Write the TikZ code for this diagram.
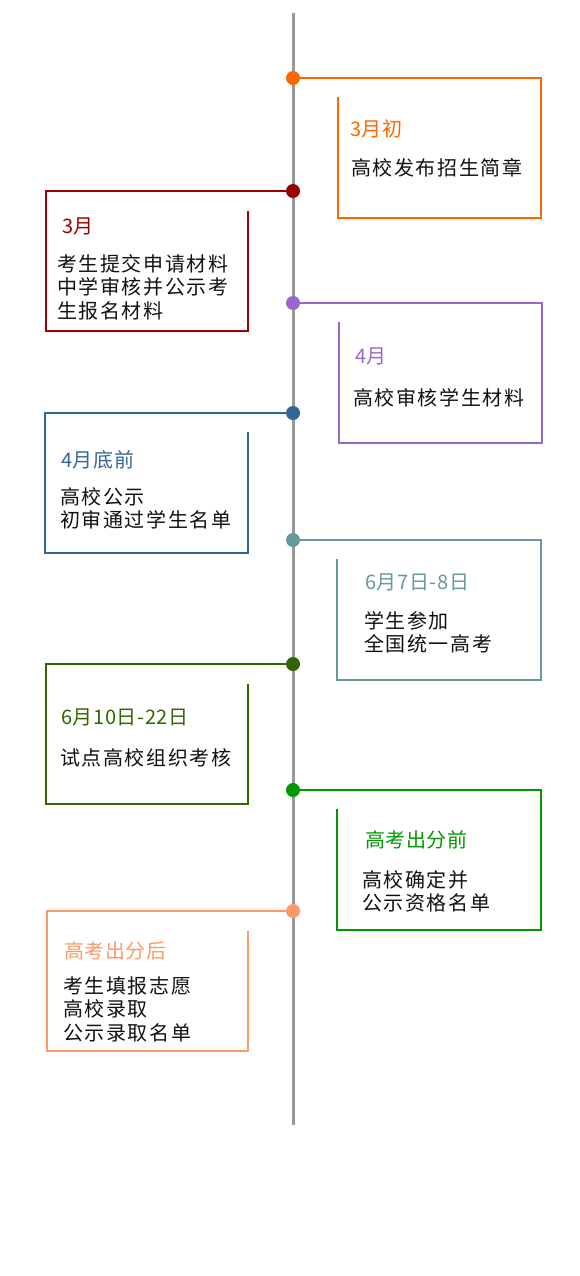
\documentclass[tikz,border=0pt]{standalone}
\usepackage{fontspec}
\newfontfamily\cjkbody[LetterSpace=8]{Noto Sans CJK SC}
\newfontfamily\cjktitle[LetterSpace=3]{Noto Sans CJK SC}
\definecolor{cA}{HTML}{FF6600}
\definecolor{cB}{HTML}{990000}
\definecolor{cC}{HTML}{9966CC}
\definecolor{cD}{HTML}{336699}
\definecolor{cE}{HTML}{669999}
\definecolor{cF}{HTML}{336600}
\definecolor{cG}{HTML}{009900}
\definecolor{cH}{HTML}{FF9966}
\definecolor{axis}{HTML}{999999}
\definecolor{bodytext}{HTML}{111111}
\tikzset{
  px/.style={x=1pt,y=-1pt},
  dotmark/.style={circle,fill=#1,inner sep=0pt,minimum size=14pt},
  frameline/.style={draw=#1,line width=2.6pt},
  titletext/.style={text=#1,font=\cjktitle\fontsize{20}{22}\selectfont,anchor=north west,inner sep=0pt},
  bodytxt/.style={text=bodytext,font=\cjkbody\fontsize{20}{23.5}\selectfont,anchor=north west,inner sep=0pt,align=left},
}
\begin{document}
\begin{tikzpicture}[px]
\useasboundingbox (0,0) rectangle (580,1276);
% axis
\coordinate (top) at (293,13);
\coordinate (bot) at (293,1125);
\draw[axis,line width=3pt] (top) -- (bot);

% 1 right
\coordinate (a1) at (541,78); \coordinate (a2) at (541,218); \coordinate (a3) at (338,218); \coordinate (a4) at (338,97);
\draw[frameline=cA] (293,78) -- (a1) -- (a2) -- (a3) -- (a4);
\node[dotmark=cA] (d1) at (293,78) {};
\node[titletext=cA] (t1) at (350,120) {3月初};
\node[bodytxt] (b1) at (351,158) {高校发布招生简章};

% 2 left
\coordinate (b1a) at (46,191); \coordinate (b1b) at (46,331); \coordinate (b1c) at (248,331); \coordinate (b1d) at (248,211);
\draw[frameline=cB] (293,191) -- (b1a) -- (b1b) -- (b1c) -- (b1d);
\node[dotmark=cB] (d2) at (293,191) {};
\node[titletext=cB] (t2) at (62,218) {3月};
\node[bodytxt] (b2) at (57,254) {考生提交申请材料\\中学审核并公示考\\生报名材料};

% 3 right
\coordinate (c1) at (542,303); \coordinate (c2) at (542,443); \coordinate (c3) at (339,443); \coordinate (c4) at (339,322);
\draw[frameline=cC] (293,303) -- (c1) -- (c2) -- (c3) -- (c4);
\node[dotmark=cC] (d3) at (293,303) {};
\node[titletext=cC] (t3) at (355,348) {4月};
\node[bodytxt] (b3) at (353,388) {高校审核学生材料};

% 4 left
\coordinate (e1) at (45,413); \coordinate (e2) at (45,553); \coordinate (e3) at (248,553); \coordinate (e4) at (248,432);
\draw[frameline=cD] (293,413) -- (e1) -- (e2) -- (e3) -- (e4);
\node[dotmark=cD] (d4) at (293,413) {};
\node[titletext=cD] (t4) at (61,450) {4月底前};
\node[bodytxt] (b4) at (60,487) {高校公示\\初审通过学生名单};

% 5 right
\coordinate (f1) at (541,540); \coordinate (f2) at (541,680); \coordinate (f3) at (337,680); \coordinate (f4) at (337,559);
\draw[frameline=cE] (293,540) -- (f1) -- (f2) -- (f3) -- (f4);
\node[dotmark=cE] (d5) at (293,540) {};
\node[titletext=cE] (t5) at (365,574) {6月7日-8日};
\node[bodytxt] (b5) at (364,611) {学生参加\\全国统一高考};

% 6 left
\coordinate (g1) at (46,664); \coordinate (g2) at (46,804); \coordinate (g3) at (248,804); \coordinate (g4) at (248,684);
\draw[frameline=cF] (293,664) -- (g1) -- (g2) -- (g3) -- (g4);
\node[dotmark=cF] (d6) at (293,664) {};
\node[titletext=cF] (t6) at (61,709) {6月10日-22日};
\node[bodytxt] (b6) at (60,748) {试点高校组织考核};

% 7 right
\coordinate (h1) at (541,790); \coordinate (h2) at (541,930); \coordinate (h3) at (337,930); \coordinate (h4) at (337,809);
\draw[frameline=cG] (293,790) -- (h1) -- (h2) -- (h3) -- (h4);
\node[dotmark=cG] (d7) at (293,790) {};
\node[titletext=cG] (t7) at (365,830) {高考出分前};
\node[bodytxt] (b7) at (362,870) {高校确定并\\公示资格名单};

% 8 left
\coordinate (k1) at (47,911); \coordinate (k2) at (47,1051); \coordinate (k3) at (248,1051); \coordinate (k4) at (248,931);
\draw[frameline=cH] (293,911) -- (k1) -- (k2) -- (k3) -- (k4);
\node[dotmark=cH] (d8) at (293,911) {};
\node[titletext=cH] (t8) at (64,941) {高考出分后};
\node[bodytxt] (b8) at (63,976) {考生填报志愿\\高校录取\\公示录取名单};
\end{tikzpicture}
\end{document}
